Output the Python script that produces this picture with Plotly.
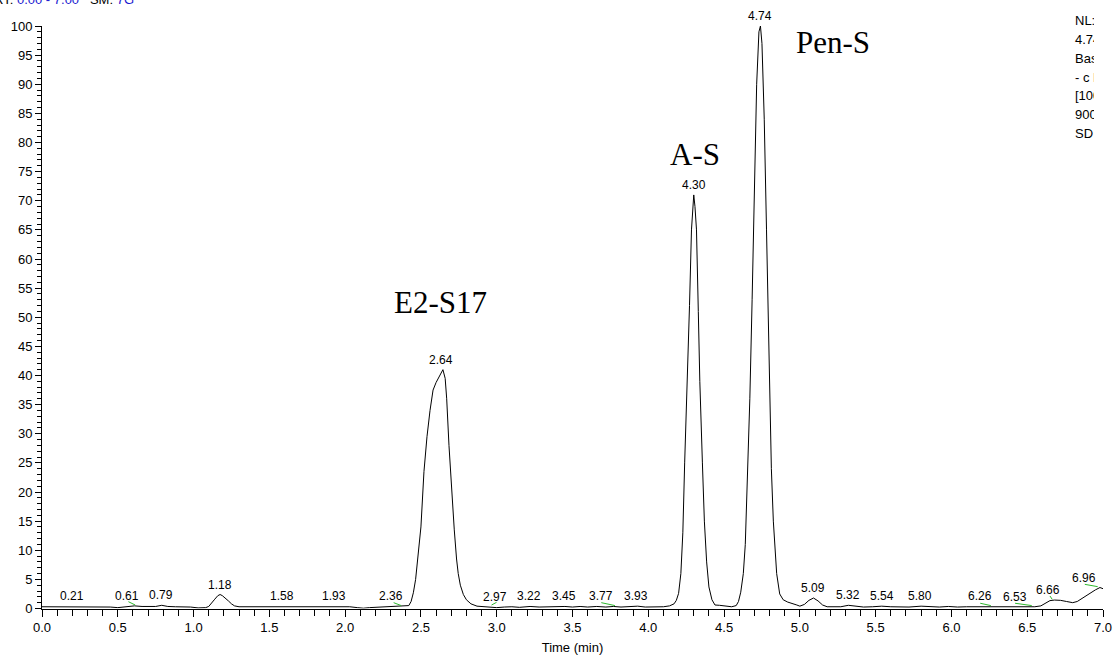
import plotly.graph_objects as go

# Chromatogram trace (time in min, relative abundance %)
time_min = [
    0.00, 0.05, 0.10, 0.15, 0.21, 0.25, 0.30, 0.35, 0.40, 0.45, 0.50, 0.55, 0.61, 0.66, 0.70, 0.75,
    0.79, 0.83, 0.88, 0.93, 0.98, 1.03, 1.08, 1.10, 1.12, 1.14, 1.16, 1.175, 1.19, 1.21, 1.23, 1.25,
    1.27, 1.30, 1.35, 1.40, 1.45, 1.50, 1.58, 1.65, 1.70, 1.75, 1.80, 1.87, 1.93, 1.98, 2.03, 2.08,
    2.12, 2.16, 2.20, 2.25, 2.30, 2.36, 2.40, 2.42, 2.435, 2.45, 2.465, 2.48, 2.50, 2.52, 2.54, 2.56,
    2.58, 2.60, 2.615, 2.63, 2.645, 2.66, 2.67, 2.685, 2.70, 2.72, 2.735, 2.746, 2.76, 2.78, 2.80,
    2.83, 2.87, 2.92, 2.97, 3.00, 3.05, 3.10, 3.15, 3.22, 3.28, 3.33, 3.40, 3.45, 3.50, 3.55, 3.60,
    3.66, 3.72, 3.77, 3.82, 3.88, 3.93, 3.98, 4.05, 4.10, 4.14, 4.17, 4.185, 4.20, 4.215, 4.228,
    4.24, 4.258, 4.272, 4.285, 4.295, 4.30, 4.308, 4.318, 4.33, 4.34, 4.357, 4.37, 4.385, 4.40,
    4.42, 4.44, 4.47, 4.51, 4.53, 4.55, 4.58, 4.595, 4.61, 4.627, 4.64, 4.658, 4.67, 4.685, 4.70,
    4.715, 4.73, 4.74, 4.75, 4.765, 4.78, 4.795, 4.812, 4.825, 4.847, 4.867, 4.89, 4.92, 4.95,
    4.98, 5.00, 5.03, 5.06, 5.09, 5.12, 5.15, 5.18, 5.22, 5.27, 5.32, 5.37, 5.42, 5.48, 5.54, 5.60,
    5.66, 5.72, 5.80, 5.86, 5.92, 5.98, 6.04, 6.10, 6.16, 6.22, 6.26, 6.32, 6.38, 6.44, 6.50, 6.55,
    6.59, 6.62, 6.65, 6.68, 6.72, 6.76, 6.80, 6.83, 6.87, 6.91, 6.95, 6.98, 7.00,
]
abundance = [
    0.30, 0.30, 0.32, 0.30, 0.35, 0.30, 0.30, 0.28, 0.30, 0.25, 0.15, 0.30, 0.45, 0.35, 0.30, 0.35,
    0.55, 0.35, 0.30, 0.30, 0.25, 0.10, 0.15, 0.35, 0.90, 1.60, 2.20, 2.40, 2.20, 1.80, 1.30, 0.80,
    0.45, 0.30, 0.30, 0.28, 0.30, 0.30, 0.35, 0.30, 0.30, 0.32, 0.30, 0.30, 0.35, 0.30, 0.30, 0.15,
    0.05, 0.15, 0.20, 0.30, 0.35, 0.40, 0.40, 0.50, 1.20, 2.70, 5.00, 8.50, 14.0, 23.5, 29.5, 34.0,
    37.5, 38.8, 39.5, 40.3, 41.0, 39.5, 36.0, 28.0, 21.5, 13.5, 8.5, 6.0, 4.0, 2.4, 1.5,
    0.80, 0.40, 0.30, 0.25, 0.15, 0.25, 0.30, 0.20, 0.35, 0.25, 0.30, 0.30, 0.35, 0.25, 0.35, 0.25,
    0.35, 0.25, 0.35, 0.25, 0.35, 0.40, 0.25, 0.25, 0.30, 0.45, 0.80, 1.40, 2.60, 6.00, 13.0,
    25.0, 39.0, 52.0, 65.0, 70.0, 71.0, 69.0, 65.0, 51.0, 39.0, 25.0, 15.0, 8.0, 3.7,
    1.5, 0.60, 0.55, 0.45, 0.35, 0.30, 0.50, 1.20, 2.80, 6.00, 11.0, 24.0, 36.0, 53.0, 72.0,
    90.0, 99.0, 100.0, 97.0, 84.0, 65.0, 44.0, 24.0, 15.0, 6.0, 2.5, 1.5, 1.1, 0.90,
    0.60, 0.40, 0.70, 1.40, 1.80, 1.30, 0.60, 0.30, 0.25, 0.30, 0.55, 0.35, 0.25, 0.30, 0.40, 0.30,
    0.30, 0.25, 0.40, 0.30, 0.25, 0.35, 0.25, 0.30, 0.30, 0.35, 0.35, 0.25, 0.30, 0.35, 0.30, 0.30,
    0.45, 0.90, 1.35, 1.45, 1.40, 1.20, 1.00, 1.20, 1.90, 2.50, 3.20, 3.60, 3.40,
]

# Peak retention-time labels: text, label x position, label base height
peak_labels = ["0.21", "0.61", "0.79", "1.18", "1.58", "1.93", "2.36", "2.64", "2.97", "3.22",
               "3.45", "3.77", "3.93", "4.30", "4.74", "5.09", "5.32", "5.54", "5.80", "6.26",
               "6.53", "6.66", "6.96"]
peak_label_x = [0.20, 0.558, 0.785, 1.175, 1.582, 1.925, 2.30, 2.633, 2.99, 3.212,
                3.446, 3.69, 3.922, 4.30, 4.735, 5.087, 5.317, 5.543, 5.795, 6.19,
                6.418, 6.638, 6.872]
peak_label_h = [0.35, 0.45, 0.55, 2.40, 0.35, 0.35, 0.40, 41.0, 0.30, 0.35,
                0.35, 0.35, 0.40, 71.0, 100.0, 1.80, 0.55, 0.40, 0.40, 0.35,
                0.30, 1.45, 3.50]

# Green leader lines (label -> peak)
leader_x0 = [0.57, 2.32, 2.966, 3.69, 6.19, 6.42, 6.65, 6.88]
leader_y0 = [1.17, 1.00, 0.60, 1.00, 0.90, 0.90, 2.15, 4.15]
leader_x1 = [0.615, 2.37, 2.999, 3.78, 6.26, 6.53, 6.665, 6.965]
leader_y1 = [0.60, 0.50, 1.06, 0.50, 0.50, 0.50, 1.57, 3.75]

# Compound names
compound_names = ["E2-S17", "A-S", "Pen-S"]
compound_x = [2.63, 4.307, 5.217]
compound_y = [52.6, 78.0, 97.2]

# Header texts (cut off in the original)
NB = "\u00a0"
header_left = ("RT: <span style='color:#1a1ad0'>0.00 - 7.00</span>" + NB * 3 +
               "SM: <span style='color:#1a1ad0'>7G</span>")
header_right_lines = ["NL:", "4.74E5", "Base Peak F:", "- c ESI Full ms", "[100.00-", "900.00]  MS", "SD"]

x_ticks = [0.0, 0.5, 1.0, 1.5, 2.0, 2.5, 3.0, 3.5, 4.0, 4.5, 5.0, 5.5, 6.0, 6.5, 7.0]
y_ticks = list(range(0, 101, 5))

SANS = "Liberation Sans, Arial, sans-serif"
SERIF = "Liberation Serif, Times New Roman, serif"

W, H = 1116, 659
PL, PR, PT, PB = 42, 1103, 26, 608.5   # plot area in page pixels
CLIP_R = 1094                           # right edge of the header text box

fig = go.Figure()
fig.add_trace(go.Scatter(x=time_min, y=abundance, mode="lines",
                         line=dict(color="black", width=1), cliponaxis=False,
                         hoverinfo="skip", showlegend=False))

lx, ly = [], []
for a, b, c, d in zip(leader_x0, leader_y0, leader_x1, leader_y1):
    lx += [a, c, None]
    ly += [b, d, None]
fig.add_trace(go.Scatter(x=lx, y=ly, mode="lines", line=dict(color="#2db82d", width=1),
                         hoverinfo="skip", showlegend=False))

# Header texts on overlay pixel axes so that they are clipped like in the original
fig.add_trace(go.Scatter(x=[134], y=[0.5], xaxis="x2", yaxis="y2", mode="text",
                         text=[header_left], textposition="middle left",
                         textfont=dict(family=SANS, size=13, color="black"),
                         hoverinfo="skip", showlegend=False, cliponaxis=True))
fig.add_trace(go.Scatter(x=[1075] * len(header_right_lines),
                         y=[22 + 18.8 * i for i in range(len(header_right_lines))],
                         xaxis="x3", yaxis="y2", mode="text",
                         text=header_right_lines, textposition="middle right",
                         textfont=dict(family=SANS, size=13, color="black"),
                         hoverinfo="skip", showlegend=False, cliponaxis=True))

annotations = []
for t, x, h in zip(peak_labels, peak_label_x, peak_label_h):
    annotations.append(dict(x=x, y=h, xref="x", yref="y", text=t, showarrow=False,
                            yanchor="middle", xanchor="center", yshift=10,
                            font=dict(family=SANS, size=12, color="black")))
for t, x, y in zip(compound_names, compound_x, compound_y):
    annotations.append(dict(x=x, y=y, xref="x", yref="y", text=t, showarrow=False,
                            yanchor="middle", xanchor="center",
                            font=dict(family=SERIF, size=31, color="black")))

fig.update_layout(
    template="none",
    width=W, height=H,
    margin=dict(l=0, r=0, t=0, b=0, pad=0, autoexpand=False),
    paper_bgcolor="white", plot_bgcolor="rgba(0,0,0,0)",
    annotations=annotations,
    xaxis=dict(domain=[PL / W, PR / W], range=[0, 7], tickvals=x_ticks, automargin=False,
               ticktext=[f"{v:.1f}" for v in x_ticks],
               showgrid=False, zeroline=False, showline=True, linecolor="black", linewidth=1,
               ticks="outside", ticklen=7, tickcolor="black", tickwidth=1,
               minor=dict(dtick=0.1, ticks="outside", ticklen=6, tickcolor="black", tickwidth=1,
                          showgrid=False),
               tickfont=dict(family=SANS, size=13, color="black"),
               title=dict(text="Time (min)", font=dict(family=SANS, size=13, color="black"), standoff=8)),
    yaxis=dict(domain=[(H - PB) / H, (H - PT) / H], range=[0, 100], tickvals=y_ticks, automargin=False,
               ticktext=[str(v) for v in y_ticks],
               showgrid=False, zeroline=False, showline=True, linecolor="black", linewidth=1,
               ticks="outside", ticklen=6, tickcolor="black", tickwidth=1,
               minor=dict(dtick=1, ticks="outside", ticklen=4, tickcolor="black", tickwidth=1,
                          showgrid=False),
               tickfont=dict(family=SANS, size=13, color="black")),
    xaxis2=dict(domain=[0, 1], range=[0, W], visible=False, anchor="y2", fixedrange=True,
                automargin=False),
    xaxis3=dict(domain=[0, CLIP_R / W], range=[0, CLIP_R], visible=False, anchor="y2",
                fixedrange=True, automargin=False),
    yaxis2=dict(domain=[0, 1], range=[H, 0], visible=False, anchor="x2", fixedrange=True,
                automargin=False),
)

fig.write_html("out.html")
